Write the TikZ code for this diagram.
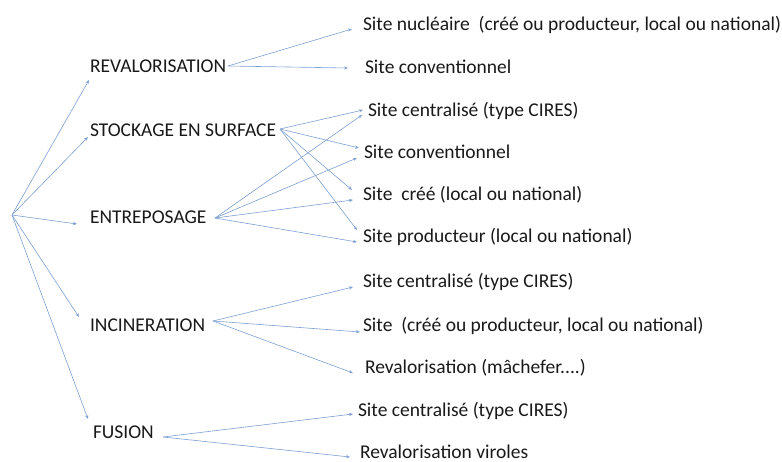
\documentclass[tikz,border=0pt]{standalone}
\usepackage{fontspec}
\setmainfont{Carlito}
\usetikzlibrary{arrows.meta}
\definecolor{lineblue}{RGB}{125,160,210}
\definecolor{txt}{RGB}{25,25,25}
\tikzset{
  lbl/.style={anchor=west,inner sep=0pt,outer sep=0pt,text=txt,font=\fontsize{19.5}{21}\selectfont},
  capslbl/.style={lbl},
  arr/.style={draw=lineblue,line width=0.6pt,-{Stealth[length=4pt,width=3.2pt]}}
}
\begin{document}
\begin{tikzpicture}[x=1pt,y=1pt]
\useasboundingbox (0,0) rectangle (782,-462);
\coordinate (R) at (12,-215);
% level 1
\node[capslbl] (rev) at (90,-66) {REVALORISATION};
\node[capslbl] (stock) at (90,-130) {STOCKAGE EN SURFACE};
\node[capslbl] (ent) at (90,-217) {ENTREPOSAGE};
\node[capslbl] (inc) at (90,-325) {INCINERATION};
\node[capslbl] (fus) at (93,-432) {FUSION};
% level 2
\node[lbl] (a1) at (363,-25) {Site nucléaire\ \ (créé ou producteur, local ou national)};
\node[lbl] (a2) at (365,-67) {Site conventionnel};
\node[lbl] (b1) at (368,-111) {Site centralisé (type CIRES)};
\node[lbl] (b2) at (364,-152) {Site conventionnel};
\node[lbl] (b3) at (363,-195) {Site\ \ créé (local ou national)};
\node[lbl] (b4) at (363,-237) {Site producteur (local ou national)};
\node[lbl] (c1) at (363,-282) {Site centralisé (type CIRES)};
\node[lbl] (c2) at (363,-326) {Site\ \ (créé ou producteur, local ou national)};
\node[lbl] (c3) at (365,-368) {Revalorisation (mâchefer....)};
\node[lbl] (d1) at (358,-411) {Site centralisé (type CIRES)};
\node[lbl] (d2) at (360,-452) {Revalorisation viroles};
% root connectors
\draw[arr] (R) -- ([shift={(-1,-14)}]rev.west);
\draw[arr] (R) -- ([shift={(-2,-7)}]stock.west);
\draw[arr] (R) -- ([shift={(-13,-7)}]ent.west);
\draw[arr] (R) -- ([shift={(-11,8)}]inc.west);
\draw[arr] (R) -- ([shift={(-5,13)}]fus.west);
% revalorisation
\draw[arr] ([shift={(138,0)}]rev.west) -- ([shift={(-11,-4)}]a1.west);
\draw[arr] ([shift={(138,0)}]rev.west) -- ([shift={(-17,-1)}]a2.west);
% stockage
\draw[arr] ([shift={(190,1)}]stock.west) -- ([shift={(-5,1)}]b1.west);
\draw[arr] ([shift={(190,1)}]stock.west) -- ([shift={(-5,4)}]b2.west);
\draw[arr] ([shift={(190,1)}]stock.west) -- ([shift={(-11,5)}]b3.west);
\draw[arr] ([shift={(190,1)}]stock.west) -- ([shift={(-6,7)}]b4.west);
% entreposage
\draw[arr] ([shift={(125,-1)}]ent.west) -- ([shift={(-6,-4)}]b1.west);
\draw[arr] ([shift={(125,-1)}]ent.west) -- ([shift={(-7,-6)}]b2.west);
\draw[arr] ([shift={(125,-1)}]ent.west) -- ([shift={(-10,-5)}]b3.west);
\draw[arr] ([shift={(125,-1)}]ent.west) -- ([shift={(-6,-5)}]b4.west);
% incineration
\draw[arr] ([shift={(123,4)}]inc.west) -- ([shift={(-10,-5)}]c1.west);
\draw[arr] ([shift={(123,4)}]inc.west) -- ([shift={(-3,-6)}]c2.west);
\draw[arr] ([shift={(123,4)}]inc.west) -- ([shift={(-12,-5)}]c3.west);
% fusion
\draw[arr] ([shift={(70,-5)}]fus.west) -- ([shift={(-5,-3)}]d1.west);
\draw[arr] ([shift={(70,-5)}]fus.west) -- ([shift={(-10,-5)}]d2.west);
\end{tikzpicture}
\end{document}
